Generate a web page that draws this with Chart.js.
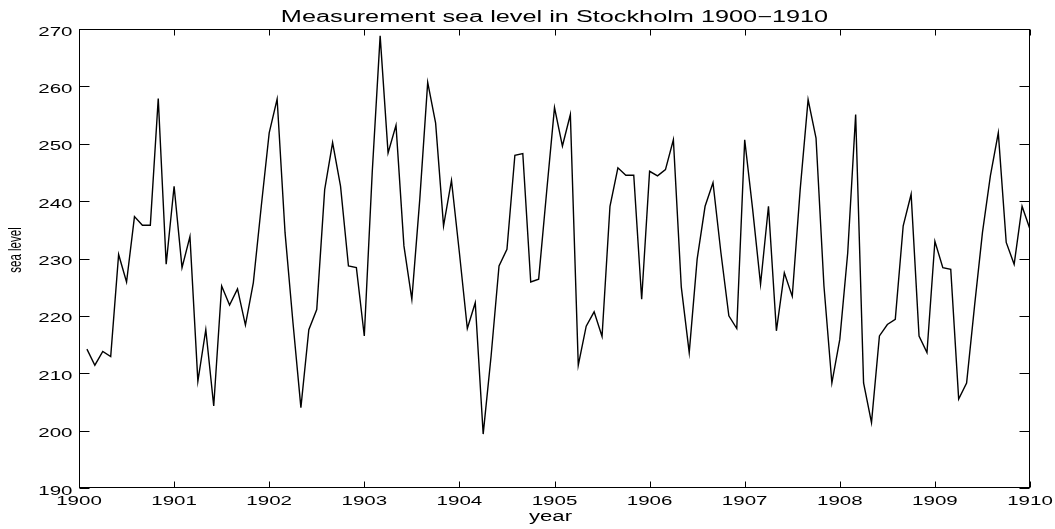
<!DOCTYPE html>
<html>
<head>
<meta charset="utf-8">
<script src="https://cdn.jsdelivr.net/npm/chart.js@4.4.1/dist/chart.umd.min.js"></script>
<style>
html,body{margin:0;padding:0;background:#fff;}
#wrap{width:1055px;height:529px;position:relative;}
</style>
</head>
<body>
<div id="wrap"><canvas id="c" width="1055" height="529"></canvas></div>
<script>
// ---- data ----
const titleText = "Measurement sea level in Stockholm 1900\u22121910";
const xLabel = "year";
const yLabel = "sea level";
const startYear = 1900;
const yearTicks = [1900,1901,1902,1903,1904,1905,1906,1907,1908,1909,1910];
const levelTicks = [190,200,210,220,230,240,250,260,270];
// monthly sea level, Feb 1900 .. Jan 1910 (month index 1..120)
const seaLevel = [
  214.2,211.4,213.8,212.9,230.7,225.9,237.3,235.8,235.8,257.9,229.0,242.6,
  228.4,233.8,208.6,217.6,204.3,225.2,221.9,224.7,218.4,225.8,239.1,251.9,
  257.8,234.5,218.8,204.0,217.6,221.1,242.0,250.2,242.6,228.7,228.4,216.5,
  245.0,268.8,248.4,253.2,232.2,222.9,240.3,260.7,253.6,235.7,243.6,231.0,
  217.8,222.3,199.4,213.0,228.7,231.6,248.0,248.3,225.9,226.4,241.5,256.3,
  249.6,255.1,211.4,218.2,220.7,216.4,239.1,245.8,244.5,244.5,222.9,245.2,
  244.4,245.5,250.7,225.0,213.6,229.9,239.1,243.2,231.0,220.0,217.8,250.7,
  238.6,225.5,239.1,217.4,227.5,223.4,242.0,257.7,251.0,225.2,208.3,215.9,
  231.0,255.1,208.3,201.4,216.5,218.5,219.4,235.7,241.2,216.5,213.6,233.0,
  228.4,228.1,205.5,208.3,221.7,234.5,244.4,251.9,232.8,229.0,239.1,235.1
];
const points = seaLevel.map((v,i)=>({x: startYear + (i+1)/12, y: v}));

const SX = 1.58; // horizontal stretch of text, as in the reference
const FONT = '"Liberation Sans", Arial, Helvetica, sans-serif';

function sText(ctx, t, x, y, align, size, baseline){
  ctx.save();
  ctx.translate(x, y);
  ctx.scale(SX, 1);
  ctx.font = size + 'px ' + FONT;
  ctx.textAlign = align;
  ctx.textBaseline = baseline || 'alphabetic';
  ctx.fillStyle = '#000';
  ctx.fillText(t, 0, 0);
  ctx.restore();
}

const framePlugin = {
  id: 'frame',
  afterDraw(chart){
    const ctx = chart.ctx;
    const a = chart.chartArea;
    const xs = chart.scales.x, ys = chart.scales.y;
    const L = Math.round(a.left)+0.5, R = Math.round(a.right)-0.5;
    const T = Math.round(a.top)+0.5, B = Math.round(a.bottom)-0.5;
    ctx.save();
    ctx.strokeStyle = '#000';
    ctx.lineWidth = 1;
    ctx.strokeRect(L, T, R-L, B-T);
    ctx.beginPath();
    yearTicks.forEach(v=>{
      const px = Math.round(xs.getPixelForValue(v))+0.5;
      ctx.moveTo(px, B); ctx.lineTo(px, B-6);
      ctx.moveTo(px, T); ctx.lineTo(px, T+6);
    });
    levelTicks.forEach(v=>{
      const py = Math.round(ys.getPixelForValue(v))+0.5;
      ctx.moveTo(L, py); ctx.lineTo(L+10, py);
      ctx.moveTo(R, py); ctx.lineTo(R-10, py);
    });
    ctx.stroke();
    // tick labels
    yearTicks.forEach(v=>{
      const px = xs.getPixelForValue(v);
      sText(ctx, String(v), px, B+17.5, 'center', 13);
    });
    levelTicks.forEach(v=>{
      const py = ys.getPixelForValue(v);
      sText(ctx, String(v), L-7, py+6.5, 'right', 13);
    });
    // title
    sText(ctx, titleText, (a.left+a.right)/2, 21.7, 'center', 16);
    // x label
    sText(ctx, xLabel, (a.left+a.right)/2 - 4, 521, 'center', 14);
    // y label (rotated, stretched across)
    ctx.save();
    ctx.translate(21, 250);
    ctx.scale(SX, 1);
    ctx.rotate(-Math.PI/2);
    ctx.font = '11.5px ' + FONT;
    ctx.textAlign = 'center';
    ctx.textBaseline = 'alphabetic';
    ctx.fillStyle = '#000';
    ctx.fillText(yLabel, 0, 0);
    ctx.restore();
    ctx.restore();
  }
};

new Chart(document.getElementById('c'), {
  type: 'line',
  data: {
    datasets: [{
      data: points,
      borderColor: '#000',
      borderWidth: 1.4,
      pointRadius: 0,
      tension: 0,
      fill: false
    }]
  },
  options: {
    responsive: false,
    animation: false,
    devicePixelRatio: 1,
    layout: { padding: { left: 0, right: 25, top: 29, bottom: 0 } },
    plugins: { legend: { display: false }, title: { display: false }, tooltip: { enabled: false } },
    scales: {
      x: {
        type: 'linear', min: 1900, max: 1910,
        ticks: { display: false, stepSize: 1 },
        grid: { display: false }, border: { display: false },
        afterFit(s){ s.height = 41; }
      },
      y: {
        type: 'linear', min: 190, max: 270,
        ticks: { display: false, stepSize: 10 },
        grid: { display: false }, border: { display: false },
        afterFit(s){ s.width = 79; }
      }
    }
  },
  plugins: [framePlugin]
});
</script>
</body>
</html>
